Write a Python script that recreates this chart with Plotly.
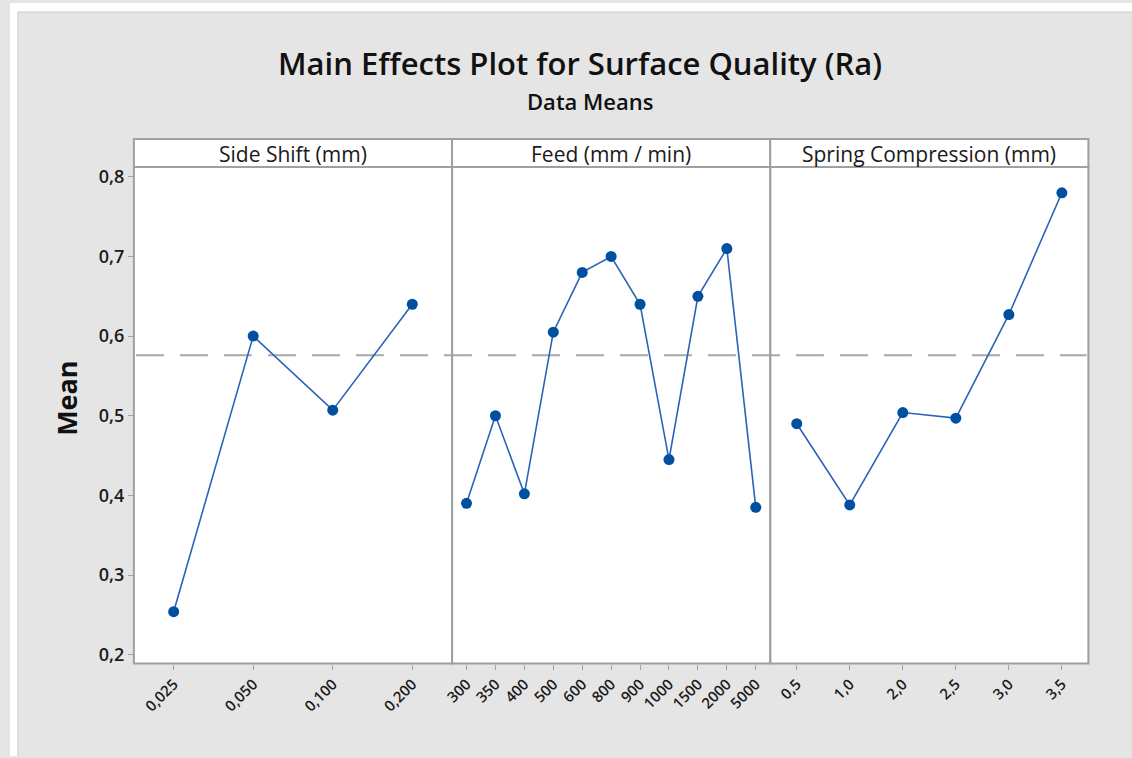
import plotly.graph_objects as go

W, H = 1132, 758

# ---- data ----
side_shift_levels = ["0,025", "0,050", "0,100", "0,200"]
side_shift_means = [0.254, 0.600, 0.507, 0.640]

feed_levels = ["300", "350", "400", "500", "600", "800", "900", "1000", "1500", "2000", "5000"]
feed_means = [0.390, 0.500, 0.402, 0.605, 0.680, 0.700, 0.640, 0.445, 0.650, 0.710, 0.385]

spring_levels = ["0,5", "1,0", "2,0", "2,5", "3,0", "3,5"]
spring_means = [0.490, 0.388, 0.504, 0.497, 0.627, 0.780]

panel_titles = ["Side Shift (mm)", "Feed (mm / min)", "Spring Compression (mm)"]
overall_mean = 0.576
y_ticks = [0.2, 0.3, 0.4, 0.5, 0.6, 0.7, 0.8]
y_ticktext = ["0,2", "0,3", "0,4", "0,5", "0,6", "0,7", "0,8"]

# ---- layout geometry (pixels) ----
px_left, px_right = 125, 1088
px_div = [125, 446, 767, 1088]
px_plot_top, px_plot_bottom = 165, 665
px_strip_top = 137

def fx(p): return p / W
def fy(p): return 1 - p / H

FONT = "Open Sans, Noto Sans, sans-serif"
BLUE_MARK = "#0050a0"
BLUE_LINE = "#2a64b8"
BORDER = "#a0a0a0"
TEXT = "#1a1a1a"

fig = go.Figure()
series = [(side_shift_levels, side_shift_means), (feed_levels, feed_means), (spring_levels, spring_means)]
for i, (lv, mv) in enumerate(series):
    xa = "x" if i == 0 else f"x{i+1}"
    fig.add_trace(go.Scatter(
        x=lv, y=mv, mode="lines+markers", xaxis=xa, yaxis="y",
        line=dict(color=BLUE_LINE, width=1.6),
        marker=dict(color=BLUE_MARK, size=11, symbol="circle"),
        showlegend=False, cliponaxis=False,
    ))

layout = dict(
    width=W, height=H,
    margin=dict(l=0, r=0, t=0, b=0),
    paper_bgcolor="#e5e5e5",
    plot_bgcolor="white",
    showlegend=False,
    yaxis=dict(
        domain=[fy(px_plot_bottom), fy(px_plot_top)],
        range=[0.2 - 9 / 802, 0.8 + 10 / 802],
        tickvals=y_ticks, ticktext=y_ticktext,
        ticks="outside", ticklen=5, tickcolor=BORDER, tickwidth=1,
        tickfont=dict(family=FONT, size=18, color=TEXT, weight=600),
        showgrid=False, zeroline=False, showline=False,
        anchor="x",
    ),
)
for i, (lv, mv) in enumerate(series):
    key = "xaxis" if i == 0 else f"xaxis{i+1}"
    layout[key] = dict(
        domain=[fx(px_div[i]), fx(px_div[i + 1])],
        type="category",
        categoryorder="array", categoryarray=lv,
        range=[-0.5, len(lv) - 0.5],
        tickangle=-45,
        ticks="outside", ticklen=5, tickcolor=BORDER, tickwidth=1,
        tickfont=dict(family=FONT, size=15, color=TEXT, weight=600),
        showgrid=False, zeroline=False, showline=False,
        anchor="y",
    )
fig.update_layout(**layout)

shapes = []
# white border at top & left of the image
shapes.append(dict(type="rect", xref="paper", yref="paper", x0=0, x1=1, y0=fy(9), y1=1,
                   fillcolor="white", line=dict(width=0), layer="below"))
shapes.append(dict(type="rect", xref="paper", yref="paper", x0=0, x1=fx(8), y0=0, y1=1,
                   fillcolor="white", line=dict(width=0), layer="below"))
shapes.append(dict(type="line", xref="paper", yref="paper", x0=fx(8), x1=fx(8), y0=0, y1=fy(9),
                   line=dict(color="#cccccc", width=1)))
shapes.append(dict(type="line", xref="paper", yref="paper", x0=fx(8), x1=1, y0=fy(9), y1=fy(9),
                   line=dict(color="#d0d0d0", width=1)))
# reference line (overall mean)
shapes.append(dict(type="line", xref="paper", yref="y", x0=fx(px_left + 2), x1=fx(px_right - 2),
                   y0=overall_mean, y1=overall_mean,
                   line=dict(color="#a8a8a8", width=2, dash="28px,16px"), layer="below"))
# panel borders and strips
for i in range(3):
    shapes.append(dict(type="rect", xref="paper", yref="paper",
                       x0=fx(px_div[i]), x1=fx(px_div[i + 1]),
                       y0=fy(px_plot_bottom), y1=fy(px_plot_top),
                       fillcolor="rgba(0,0,0,0)", line=dict(color=BORDER, width=2)))
    shapes.append(dict(type="rect", xref="paper", yref="paper",
                       x0=fx(px_div[i]), x1=fx(px_div[i + 1]),
                       y0=fy(px_plot_top), y1=fy(px_strip_top),
                       fillcolor="white", line=dict(color=BORDER, width=2)))
fig.update_layout(shapes=shapes)

ann = []
for i, t in enumerate(panel_titles):
    ann.append(dict(xref="paper", yref="paper", x=fx((px_div[i] + px_div[i + 1]) / 2),
                    y=fy((px_strip_top + px_plot_top) / 2 + 1), text=t, showarrow=False,
                    xanchor="center", yanchor="middle",
                    font=dict(family=FONT, size=21, color=TEXT)))
ann.append(dict(xref="paper", yref="paper", x=fx(575), y=fy(60),
                text="Main Effects Plot for Surface Quality (Ra)", showarrow=False,
                xanchor="center", yanchor="middle",
                font=dict(family=FONT, size=31, color="#111111", weight=600)))
ann.append(dict(xref="paper", yref="paper", x=fx(585), y=fy(99),
                text="Data Means", showarrow=False, xanchor="center", yanchor="middle",
                font=dict(family=FONT, size=22, color="#111111", weight=600)))
ann.append(dict(xref="paper", yref="paper", x=fx(57), y=fy(398),
                text="<b>Mean</b>", showarrow=False, textangle=-90,
                xanchor="center", yanchor="middle",
                font=dict(family=FONT, size=27, color="#111111")))
fig.update_layout(annotations=ann)

fig.write_html(
    "out.html",
    config={"displayModeBar": False},
    post_script=("document.body.style.margin='0px';"
                 "document.body.style.overflow='hidden';"
                 "document.body.style.background='#e5e5e5';"),
)
